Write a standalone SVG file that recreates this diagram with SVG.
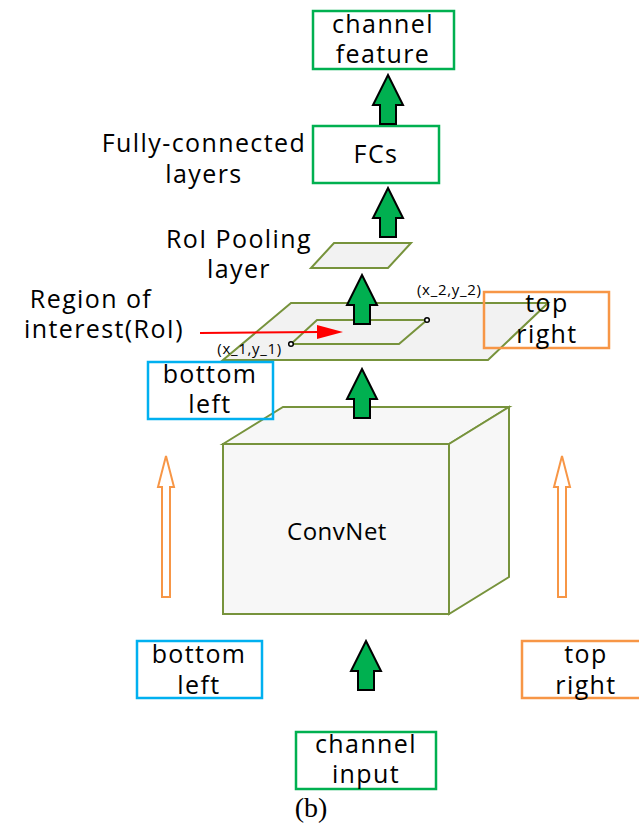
<svg xmlns="http://www.w3.org/2000/svg" width="639" height="831" viewBox="0 0 639 831">
<style>
  text { font-family: "Open Sans", "Noto Sans", sans-serif; fill: #000; }
  .lbl { font-size: 25px; letter-spacing: 1.4px; }
  .mid { text-anchor: middle; }
  .small { font-size: 15px; letter-spacing: 0.7px; }
  .gbox { fill: #fff; stroke: #00b050; stroke-width: 2.5; }
  .bbox { fill: none; stroke: #00b0f0; stroke-width: 2.5; }
  .obox { fill: none; stroke: #f79646; stroke-width: 2.5; }
  .plane { fill: #f2f2f2; stroke: #77933c; stroke-width: 2; stroke-linejoin: miter; }
  .cube { fill: #f7f7f7; stroke: #77933c; stroke-width: 2; }
  .garrow { fill: #00b050; stroke: #000; stroke-width: 2; stroke-linejoin: miter; }
  .oarrow { fill: #fff; stroke: #f79646; stroke-width: 2; }
</style>
<defs>
  <path id="ga" d="M0,0 L15,30 L8,30 L8,49 L-8,49 L-8,30 L-15,30 Z"/>
  <path id="oa" d="M0,0 L8,31 L4,31 L4,141 L-4,141 L-4,31 L-8,31 Z"/>
</defs>

<g id="convnet">
  <polygon class="cube" points="223,444 283,407 509,407 449,444"/>
  <polygon class="cube" points="449,444 509,407 509,577 449,614"/>
  <rect class="cube" x="223" y="444" width="226" height="170"/>
  <text class="mid" x="337" y="540" font-size="24" letter-spacing="0.5">ConvNet</text>
</g>

<g id="feature-map">
  <polygon class="plane" points="291,303 548,303 488,360 223,360"/>
</g>

<g id="roi">
  <polygon class="plane" points="317,320 427,320 399,344 291,344"/>
  <circle cx="291" cy="344" r="2.3" fill="#fff" stroke="#000" stroke-width="1.5"/>
  <circle cx="427" cy="320" r="2.3" fill="#fff" stroke="#000" stroke-width="1.5"/>
  <text class="small" x="282" y="354" text-anchor="end">(x_1,y_1)</text>
  <text class="small" x="417" y="295">(x_2,y_2)</text>
</g>

<g id="roi-pooling">
  <polygon class="plane" points="334,243 411,243 388,268 311,268"/>
</g>

<g id="channel-feature">
  <rect class="gbox" x="313" y="11" width="141" height="58"/>
  <text class="lbl mid" x="383" y="33">channel</text>
  <text class="lbl mid" x="383" y="63">feature</text>
</g>

<g id="fcs">
  <rect class="gbox" x="313" y="126" width="126" height="57"/>
  <text class="lbl mid" x="376" y="163">FCs</text>
</g>

<g id="channel-input">
  <rect class="gbox" x="296" y="732" width="140" height="57"/>
  <text class="lbl mid" x="366" y="753">channel</text>
  <text class="lbl mid" x="366" y="783">input</text>
</g>

<g id="bottom-left-top">
  <rect class="bbox" x="148" y="362" width="125" height="57"/>
  <text class="lbl mid" x="210" y="383">bottom</text>
  <text class="lbl mid" x="210" y="413">left</text>
</g>

<g id="top-right-top">
  <rect class="obox" x="484" y="292" width="125" height="56"/>
  <text class="lbl mid" x="547" y="312">top</text>
  <text class="lbl mid" x="547" y="343">right</text>
</g>

<g id="bottom-left-bottom">
  <rect class="bbox" x="137" y="641" width="125" height="57"/>
  <text class="lbl mid" x="199" y="663">bottom</text>
  <text class="lbl mid" x="199" y="694">left</text>
</g>

<g id="top-right-bottom">
  <rect class="obox" x="522" y="641" width="125" height="57"/>
  <text class="lbl mid" x="586" y="663">top</text>
  <text class="lbl mid" x="586" y="694">right</text>
</g>

<g id="labels">
  <text class="lbl mid" x="204" y="152">Fully-connected</text>
  <text class="lbl mid" x="204" y="183">layers</text>
  <text class="lbl mid" x="239" y="248">RoI Pooling</text>
  <text class="lbl mid" x="239" y="278">layer</text>
  <text class="lbl mid" x="91" y="308">Region of</text>
  <text class="lbl mid" x="104" y="338">interest(RoI)</text>
  <text class="mid" x="311" y="817" font-size="28" style="font-family: 'Liberation Serif', serif;">(b)</text>
</g>

<g id="connectors">
  <use href="#ga" class="garrow" transform="translate(388,75)"/>
  <use href="#ga" class="garrow" transform="translate(388,188)"/>
  <use href="#ga" class="garrow" transform="translate(362,275)"/>
  <use href="#ga" class="garrow" transform="translate(362,369)"/>
  <use href="#ga" class="garrow" transform="translate(366,641)"/>
  <use href="#oa" class="oarrow" transform="translate(166,456)"/>
  <use href="#oa" class="oarrow" transform="translate(562,456)"/>
  <line x1="200" y1="333" x2="320" y2="332" stroke="#ff0000" stroke-width="2"/>
  <polygon points="317,325 343,332 317,339" fill="#ff0000"/>
</g>
</svg>
